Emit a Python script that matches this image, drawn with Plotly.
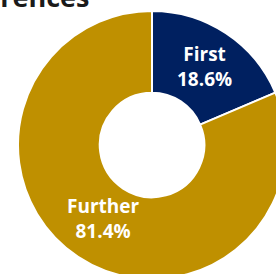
import math
import plotly.graph_objects as go

title_text = "Occurrences"
categories = ["First", "Further"]
shares = [18.6, 81.4]
colors = ["#002060", "#BF9000"]

fig = go.Figure(go.Pie(
    labels=categories,
    values=shares,
    sort=False,
    direction="clockwise",
    rotation=0,
    hole=0.39,
    marker=dict(colors=colors, line=dict(color="white", width=2)),
    textinfo="none",
    showlegend=False,
    hoverinfo="label+percent",
))

# slice labels placed at the middle of each ring segment (derived from the data)
total = sum(shares)
cum = 0.0
k = 0.68
for lab, v in zip(categories, shares):
    mid = (cum + v / 2) / total * 2 * math.pi
    cum += v
    fig.add_annotation(
        text=f"<b>{lab}</b><br><b>{v / total * 100:.1f}%</b>",
        xref="paper", yref="paper",
        x=0.5 + 0.5 * k * math.sin(mid) + 0.008,
        y=0.5 + 0.5 * k * math.cos(mid) + 0.008,
        xanchor="center", yanchor="middle",
        showarrow=False,
        font=dict(family="Open Sans", size=19, color="white"),
    )

fig.add_annotation(
    text="<b>" + title_text + "</b>",
    xref="paper", yref="paper",
    x=(91 - 18) / 268, y=(279 - 17) / 268,
    xanchor="right", yanchor="bottom",
    showarrow=False,
    font=dict(family="Open Sans", size=27, color="#1a1a1a"),
)

fig.update_layout(
    width=286, height=279,
    margin=dict(l=18, r=0, t=11, b=0),
    paper_bgcolor="white",
    plot_bgcolor="white",
)

fig.write_html(
    "out.html",
    config={"displayModeBar": False},
    post_script="document.body.style.margin='0';document.body.style.overflow='hidden';document.documentElement.style.overflow='hidden';",
)
